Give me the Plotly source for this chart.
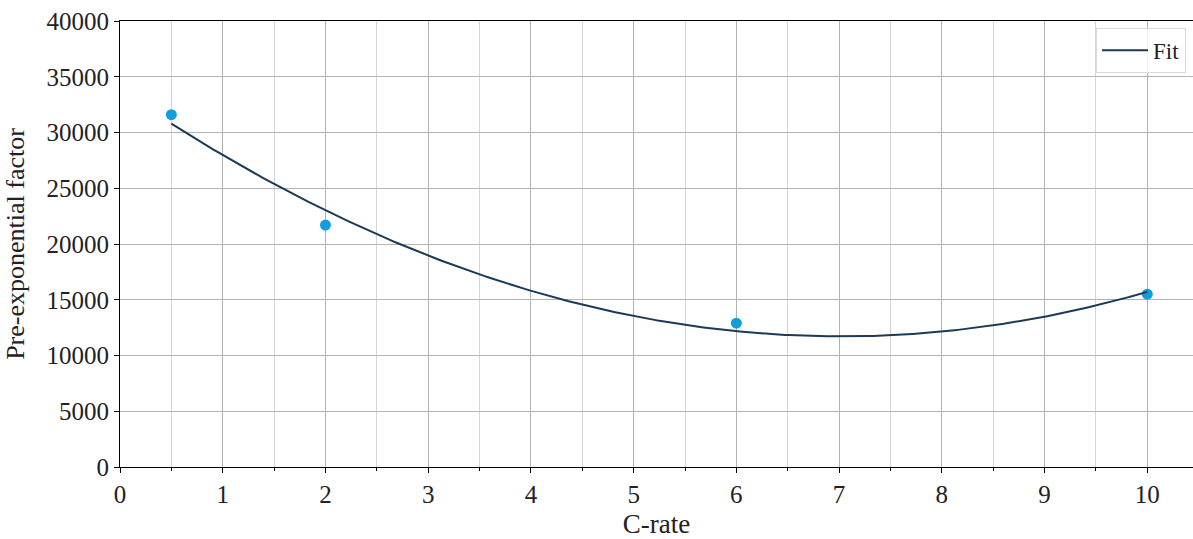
import numpy as np
import plotly.graph_objects as go

# Measured pre-exponential factors per C-rate
c_rate = [0.5, 2, 6, 10]
pre_exp = [31600, 21700, 12900, 15500]

# Quadratic least-squares fit through the measurements
coeffs = np.polyfit(c_rate, pre_exp, 2)
x_fit = np.linspace(min(c_rate), max(c_rate), 300)
y_fit = np.polyval(coeffs, x_fit)

FONT = "Liberation Serif"
MAJOR_GRID = "#b3b3b3"
MINOR_GRID = "#d4d4d4"

fig = go.Figure()
fig.add_trace(go.Scatter(
    x=c_rate, y=pre_exp, mode="markers",
    marker=dict(color="#109fdb", size=11, line=dict(width=0)),
    showlegend=False,
))
fig.add_trace(go.Scatter(
    x=x_fit, y=y_fit, mode="lines", name="Fit",
    line=dict(color="#1b3a57", width=2),
))

fig.update_layout(
    width=1193, height=539,
    margin=dict(l=120, r=0, t=21, b=72),
    paper_bgcolor="white", plot_bgcolor="white",
    font=dict(family=FONT, size=25, color="#222222"),
    legend=dict(
        x=0.9935, y=0.985, xanchor="right", yanchor="top",
        bgcolor="rgba(255,255,255,0.8)", bordercolor="#d9d9d9", borderwidth=1,
        font=dict(family=FONT, size=23), itemwidth=46,
    ),
)

fig.update_xaxes(
    range=[0, 10.445], tickmode="linear", tick0=0, dtick=1,
    showgrid=True, gridcolor=MAJOR_GRID, gridwidth=1,
    ticks="outside", ticklen=5, tickcolor="black", tickwidth=1,
    showline=True, linecolor="black", linewidth=1, mirror=True,
    zeroline=False,
    minor=dict(dtick=0.5, tick0=0, showgrid=True, gridcolor=MINOR_GRID,
               gridwidth=1, ticks="outside", ticklen=3, tickcolor="black"),
    tickfont=dict(family=FONT, size=25),
    title=dict(text="C-rate", font=dict(family=FONT, size=27), standoff=12),
)
fig.update_yaxes(
    range=[0, 40000], tickmode="linear", tick0=0, dtick=5000,
    showgrid=True, gridcolor=MAJOR_GRID, gridwidth=1,
    ticks="outside", ticklen=5, tickcolor="black", tickwidth=1,
    showline=True, linecolor="black", linewidth=1, mirror=True,
    zeroline=False,
    tickformat="d",
    tickfont=dict(family=FONT, size=25),
    title=dict(text="Pre-exponential factor", font=dict(family=FONT, size=26),
               standoff=14),
)

fig.write_html("out.html")
